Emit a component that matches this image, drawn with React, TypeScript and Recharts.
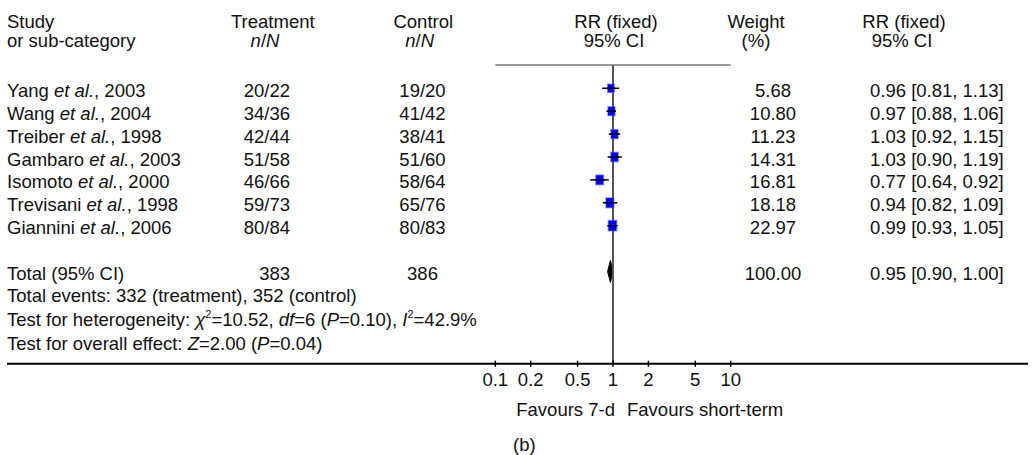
import React from 'react';
import { ComposedChart, Scatter, XAxis, YAxis, ErrorBar, ReferenceLine, Area } from 'recharts';

// ---------- data ----------
const studyNames = ['Yang', 'Wang', 'Treiber', 'Gambaro', 'Isomoto', 'Trevisani', 'Giannini'];
const studyYears = [2003, 2004, 1998, 2003, 2000, 1998, 2006];
const treatEvents = [20, 34, 42, 51, 46, 59, 80];
const treatTotals = [22, 36, 44, 58, 66, 73, 84];
const ctrlEvents = [19, 41, 38, 51, 58, 65, 80];
const ctrlTotals = [20, 42, 41, 60, 64, 76, 83];
const weights = [5.68, 10.8, 11.23, 14.31, 16.81, 18.18, 22.97];
const rrValues = [0.96, 0.97, 1.03, 1.03, 0.77, 0.94, 0.99];
const ciLow = [0.81, 0.88, 0.92, 0.9, 0.64, 0.82, 0.93];
const ciHigh = [1.13, 1.06, 1.15, 1.19, 0.92, 1.09, 1.05];

const totalTreat = 383;
const totalCtrl = 386;
const totalWeight = 100.0;
const totalRR = 0.95;
const totalLow = 0.9;
const totalHigh = 1.0;

const totalEventsTreat = 332;
const totalEventsCtrl = 352;
const chiSq = '10.52';
const dfHet = 6;
const pHet = '0.10';
const iSq = '42.9';
const zOverall = '2.00';
const pOverall = '0.04';

const axisTicks = [0.1, 0.2, 0.5, 1, 2, 5, 10];
const favoursLeft = 'Favours 7-d';
const favoursRight = 'Favours short-term';
const panelLabel = '(b)';

// ---------- layout ----------
const W = 1035;
const H = 455;
const TOTAL_ROW = 8;
const Y_DOMAIN: [number, number] = [-1.0175, 12.026];
const X_DOMAIN: [number, number] = [Math.pow(10, -5.1487), Math.pow(10, 3.526)];
const FONT = '"Liberation Sans", Arial, sans-serif';
const FS = 18.5;
const TXT = '#111';

const fmtCI = (r: number, l: number, h: number) => `${r.toFixed(2)} [${l.toFixed(2)}, ${h.toFixed(2)}]`;

const studyData = studyNames.map((name, i) => ({
  x: rrValues[i],
  y: i,
  w: weights[i],
  err: [rrValues[i] - ciLow[i], ciHigh[i] - rrValues[i]],
}));

const tableRows = [
  ...studyNames.map((name, i) => ({
    x: 1,
    y: i,
    total: false,
    name,
    year: studyYears[i],
    treat: `${treatEvents[i]}/${treatTotals[i]}`,
    ctrl: `${ctrlEvents[i]}/${ctrlTotals[i]}`,
    weight: weights[i].toFixed(2),
    ci: fmtCI(rrValues[i], ciLow[i], ciHigh[i]),
  })),
  {
    x: 1,
    y: TOTAL_ROW,
    total: true,
    name: 'Total (95% CI)',
    year: 0,
    treat: String(totalTreat),
    ctrl: String(totalCtrl),
    weight: totalWeight.toFixed(2),
    ci: fmtCI(totalRR, totalLow, totalHigh),
  },
];

const diamondHalf = 0.48;
const diamondData = [
  { x: totalLow, band: [TOTAL_ROW, TOTAL_ROW] },
  { x: totalRR, band: [TOTAL_ROW - diamondHalf, TOTAL_ROW + diamondHalf] },
  { x: totalHigh, band: [TOTAL_ROW, TOTAL_ROW] },
];

// ---------- shapes ----------
const SquareShape = (props: any) => {
  const { cx, cy, payload } = props;
  const w = 6 + 0.1 * payload.w;
  const h = w * 1.25;
  return (
    <g>
      <rect x={cx - w / 2} y={cy - h / 2} width={w} height={h} fill="#0000ff" stroke="rgba(60,60,255,0.45)" strokeWidth={1.4} />
      <line x1={cx - w / 2 - 1} x2={cx + w / 2 + 1} y1={cy} y2={cy} stroke="#000" strokeWidth={1.5} />
    </g>
  );
};

const RowTextShape = (props: any) => {
  const { cy, payload } = props;
  const by = cy + 8.5;
  return (
    <g fontFamily={FONT} fontSize={FS} fill={TXT}>
      <text x={7} y={by}>
        {payload.total ? (
          payload.name
        ) : (
          <>
            <tspan>{`${payload.name} `}</tspan>
            <tspan fontStyle="italic">et al.</tspan>
            <tspan>{`, ${payload.year}`}</tspan>
          </>
        )}
      </text>
      <text x={290} y={by} textAnchor="end">{payload.treat}</text>
      <text x={422.5} y={by} textAnchor="middle">{payload.ctrl}</text>
      <text x={773} y={by} textAnchor="middle">{payload.weight}</text>
      <text x={870} y={by}>{payload.ci}</text>
    </g>
  );
};

const AxisTick = (props: any) => {
  const { x, y, payload } = props;
  return (
    <g>
      <line x1={x} x2={x} y1={y - 3} y2={y + 3} stroke="#000" strokeWidth={1.5} />
      <text x={x} y={y + 22.3} textAnchor="middle" fontFamily={FONT} fontSize={FS} fill={TXT}>
        {String(payload.value)}
      </text>
    </g>
  );
};

const Overlay = () => (
  <svg width={W} height={H} style={{ position: 'absolute', left: 0, top: 0, pointerEvents: 'none' }}>
    <g fontFamily={FONT} fontSize={FS} fill={TXT}>
      <text x={7} y={28}>Study</text>
      <text x={7} y={47}>or sub-category</text>
      <text x={272.8} y={28} textAnchor="middle">Treatment</text>
      <text x={265} y={47} textAnchor="middle"><tspan fontStyle="italic">n</tspan>/<tspan fontStyle="italic">N</tspan></text>
      <text x={423.3} y={28} textAnchor="middle">Control</text>
      <text x={419.6} y={47} textAnchor="middle"><tspan fontStyle="italic">n</tspan>/<tspan fontStyle="italic">N</tspan></text>
      <text x={616} y={28} textAnchor="middle">RR (fixed)</text>
      <text x={614} y={47} textAnchor="middle">95% CI</text>
      <text x={756} y={28} textAnchor="middle">Weight</text>
      <text x={756} y={47} textAnchor="middle">(%)</text>
      <text x={904} y={28} textAnchor="middle">RR (fixed)</text>
      <text x={902} y={47} textAnchor="middle">95% CI</text>

      <text x={7} y={301.7}>{`Total events: ${totalEventsTreat} (treatment), ${totalEventsCtrl} (control)`}</text>
      <text x={7} y={326}>
        <tspan>Test for heterogeneity: </tspan>
        <tspan fontStyle="italic">χ</tspan>
        <tspan dy={-8} fontSize={11}>2</tspan>
        <tspan dy={8}>{`=${chiSq}, `}</tspan>
        <tspan fontStyle="italic">df</tspan>
        <tspan>{`=${dfHet} (`}</tspan>
        <tspan fontStyle="italic">P</tspan>
        <tspan>{`=${pHet}), `}</tspan>
        <tspan fontStyle="italic">I</tspan>
        <tspan dy={-8} fontSize={11}>2</tspan>
        <tspan dy={8}>{`=${iSq}%`}</tspan>
      </text>
      <text x={7} y={350}>
        <tspan>Test for overall effect: </tspan>
        <tspan fontStyle="italic">Z</tspan>
        <tspan>{`=${zOverall} (`}</tspan>
        <tspan fontStyle="italic">P</tspan>
        <tspan>{`=${pOverall})`}</tspan>
      </text>

      <text x={615} y={416} textAnchor="end">{favoursLeft}</text>
      <text x={627} y={416}>{favoursRight}</text>
      <text x={513} y={451}>{panelLabel}</text>
    </g>
  </svg>
);

export default function App() {
  return (
    <div style={{ position: 'absolute', left: 0, top: 0, width: W, height: H, background: '#fff' }}>
      <ComposedChart width={W} height={H} margin={{ top: 65, right: 7, bottom: 61.3, left: 7 }}>
        <XAxis
          dataKey="x"
          type="number"
          scale="log"
          domain={X_DOMAIN}
          allowDataOverflow
          ticks={axisTicks}
          interval={0}
          tickSize={0}
          tickMargin={0}
          tickLine={false}
          height={30}
          axisLine={{ stroke: '#000', strokeWidth: 2 }}
          tick={<AxisTick />}
        />
        <YAxis dataKey="y" type="number" domain={Y_DOMAIN} allowDataOverflow reversed hide />
        <ReferenceLine
          segment={[
            { x: axisTicks[0], y: Y_DOMAIN[0] },
            { x: axisTicks[axisTicks.length - 1], y: Y_DOMAIN[0] },
          ]}
          stroke="#999"
          strokeWidth={2}
        />
        <ReferenceLine x={1} stroke="#555" strokeWidth={2} />
        <Area
          data={diamondData}
          dataKey="band"
          type="linear"
          fill="#000"
          fillOpacity={1}
          stroke="#000"
          strokeWidth={1}
          dot={false}
          activeDot={false}
          isAnimationActive={false}
        />
        <Scatter data={studyData} shape={<SquareShape />} isAnimationActive={false}>
          <ErrorBar dataKey="err" direction="x" width={0} stroke="#000" strokeWidth={1.5} isAnimationActive={false} />
        </Scatter>
        <Scatter data={tableRows} shape={<RowTextShape />} isAnimationActive={false} />
      </ComposedChart>
      <Overlay />
    </div>
  );
}
